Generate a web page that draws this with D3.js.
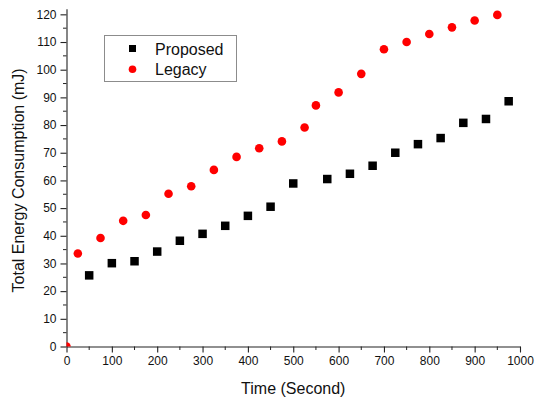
<!DOCTYPE html>
<html>
<head>
<meta charset="utf-8">
<script src="https://cdn.jsdelivr.net/npm/d3@7"></script>
<style>
  body { margin: 0; background: #fff; }
  svg { display: block; font-family: "Liberation Sans", Arial, sans-serif; }
</style>
</head>
<body>
<svg id="chart" width="535" height="401"></svg>
<script>
// data
var proposedTime = [50, 100, 150, 200, 250, 300, 350, 400, 450, 500, 575, 625, 675, 725, 775, 825, 875, 925, 975];
var proposedEnergy = [25.7, 30.1, 30.8, 34.3, 38.2, 40.7, 43.6, 47.2, 50.5, 58.9, 60.5, 62.4, 65.3, 70.0, 73.1, 75.3, 80.8, 82.2, 88.6];

var legacyTime = [0, 25, 75, 125, 175, 225, 275, 325, 375, 425, 475, 525, 550, 600, 650, 700, 750, 800, 850, 900, 950];
var legacyEnergy = [0, 33.6, 39.2, 45.4, 47.5, 55.2, 57.9, 63.8, 68.5, 71.6, 74.1, 79.1, 87.1, 91.8, 98.5, 107.4, 110.0, 112.9, 115.3, 117.8, 119.8];

var xTicks = [0, 100, 200, 300, 400, 500, 600, 700, 800, 900, 1000];
var yTicks = [0, 10, 20, 30, 40, 50, 60, 70, 80, 90, 100, 110, 120];

var legendLabels = ["Proposed", "Legacy"];

var chart = {};
chart.svg = d3.select("#chart");

chart.x = d3.scaleLinear().domain([0, 1000]).range([66.5, 520]);
chart.y = d3.scaleLinear().domain([0, 122]).range([346.5, 8.8]);

// minor ticks every half step
var xMinor = d3.range(50, 1000, 100);
var yMinor = d3.range(5, 121, 10);

var axisColor = "#222";

// x axis
var xAxis = chart.svg.append("g")
    .attr("transform", "translate(0," + chart.y(0) + ")");
xAxis.call(d3.axisBottom(chart.x).tickValues(xTicks).tickFormat(d3.format("d"))
    .tickSize(6).tickSizeOuter(0).tickPadding(4));
xAxis.append("g").selectAll("line")
    .data(xMinor)
    .enter().append("line")
    .attr("x1", function(d) { return chart.x(d); })
    .attr("x2", function(d) { return chart.x(d); })
    .attr("y1", 0)
    .attr("y2", 3.5)
    .attr("stroke", axisColor);

// y axis
var yAxis = chart.svg.append("g")
    .attr("transform", "translate(" + chart.x(0) + ",0)");
yAxis.call(d3.axisLeft(chart.y).tickValues(yTicks).tickFormat(d3.format("d"))
    .tickSize(6).tickSizeOuter(0).tickPadding(4));
yAxis.append("g").selectAll("line")
    .data(yMinor)
    .enter().append("line")
    .attr("x1", 0)
    .attr("x2", -3.5)
    .attr("y1", function(d) { return chart.y(d); })
    .attr("y2", function(d) { return chart.y(d); })
    .attr("stroke", axisColor);

chart.svg.selectAll(".domain, .tick line").attr("stroke", axisColor).attr("stroke-width", 1.1);
chart.svg.selectAll(".tick text")
    .attr("font-size", "12px")
    .attr("font-family", "Liberation Sans, Arial, sans-serif")
    .attr("fill", "#111");

// axis titles
chart.svg.append("text")
    .attr("x", (chart.x(0) + chart.x(1000)) / 2)
    .attr("y", 394)
    .attr("text-anchor", "middle")
    .attr("font-size", "16px")
    .attr("fill", "#111")
    .text("Time (Second)");

chart.svg.append("text")
    .attr("transform", "translate(23.5," + ((chart.y(0) + chart.y(120)) / 2) + ") rotate(-90)")
    .attr("text-anchor", "middle")
    .attr("font-size", "16px")
    .attr("fill", "#111")
    .text("Total Energy Consumption (mJ)");

// clip so the point at the origin is cut like in the picture
chart.svg.append("clipPath").attr("id", "plotclip")
    .append("rect")
    .attr("x", chart.x(0))
    .attr("y", 0)
    .attr("width", chart.x(1000) - chart.x(0) + 10)
    .attr("height", chart.y(0));

var marks = chart.svg.append("g").attr("clip-path", "url(#plotclip)");

var legacy = legacyTime.map(function(t, i) { return { t: t, e: legacyEnergy[i] }; });
var proposed = proposedTime.map(function(t, i) { return { t: t, e: proposedEnergy[i] }; });

marks.selectAll("circle.legacy")
    .data(legacy)
    .enter().append("circle")
    .attr("class", "legacy")
    .attr("cx", function(d) { return chart.x(d.t); })
    .attr("cy", function(d) { return chart.y(d.e); })
    .attr("r", 4.3)
    .style("fill", "#ff0000");

var sq = 8.5;
marks.selectAll("rect.proposed")
    .data(proposed)
    .enter().append("rect")
    .attr("class", "proposed")
    .attr("x", function(d) { return chart.x(d.t) - sq / 2; })
    .attr("y", function(d) { return chart.y(d.e) - sq / 2; })
    .attr("width", sq)
    .attr("height", sq)
    .style("fill", "#000");

// legend
var legend = chart.svg.append("g");
legend.append("rect")
    .attr("x", 104.5)
    .attr("y", 35.5)
    .attr("width", 132)
    .attr("height", 46)
    .attr("fill", "#fff")
    .attr("stroke", "#8c8c8c")
    .attr("stroke-width", 1);

legend.append("rect")
    .attr("x", 132.5 - 3.5)
    .attr("y", 48.5 - 3.5)
    .attr("width", 7)
    .attr("height", 7)
    .style("fill", "#000");

legend.append("circle")
    .attr("cx", 132.5)
    .attr("cy", 69.3)
    .attr("r", 3.8)
    .style("fill", "#ff0000");

legend.selectAll("text")
    .data(legendLabels)
    .enter().append("text")
    .attr("x", 155)
    .attr("y", function(d, i) { return 54.5 + i * 20.5; })
    .attr("font-size", "16px")
    .attr("fill", "#111")
    .text(function(d) { return d; });
</script>
</body>
</html>
